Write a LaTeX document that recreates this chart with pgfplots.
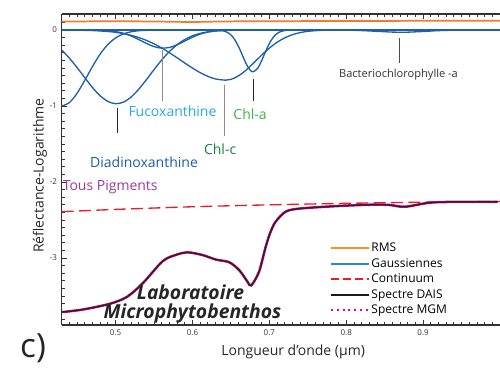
\documentclass[border=0pt]{standalone}
\usepackage{fontspec}
\setmainfont{Open Sans}
\usepackage{pgfplots}
\pgfplotsset{compat=1.18}
\definecolor{rmsorange}{HTML}{F47A30}
\definecolor{rmsleg}{HTML}{F7941D}
\definecolor{gaussblue}{HTML}{1F5FAA}
\definecolor{gaussleg}{HTML}{2B86D6}
\definecolor{contred}{HTML}{ED1C24}
\definecolor{mgm}{HTML}{EC008C}
\definecolor{fucocol}{HTML}{27AAE1}
\definecolor{diadcol}{HTML}{1C5DA8}
\definecolor{chlccol}{HTML}{1A8040}
\definecolor{chlacol}{HTML}{39B54A}
\definecolor{tpcol}{HTML}{9B3B9C}
\begin{document}
\begin{tikzpicture}
\path[use as bounding box] (-46.3pt,-37.5pt) rectangle (328.7pt,243.75pt);
\begin{axis}[
  at={(0pt,0pt)}, anchor=south west,
  scale only axis, width=328.7pt, height=233.25pt,
  xmin=0.43, xmax=1.0, ymin=-3.88, ymax=0.21,
  axis x line*=box, axis y line*=left,
  axis line style={black!80, line width=0.8pt},
  clip=false,
  xtick={0.5,0.6,0.7,0.8,0.9},
  minor xtick={0.43,0.44,...,1.0},
  ytick={-3,-2,-1,0},
  minor ytick={-3.8,-3.7,...,0.2},
  tick align=inside,
  major tick length=4pt, minor tick length=2.2pt,
  tick style={black!80, line width=0.6pt},
  tick label style={font=\fontsize{6}{7}\selectfont, text=black!80},
  /pgf/number format/assume math mode=true,
  xticklabel style={/pgf/number format/fixed, /pgf/number format/precision=1},
  legend image code/.code={\draw[#1] (0pt,0pt) -- (28pt,0pt);},
  legend style={draw=none, fill=none, at={(axis cs:0.7785,-2.78)}, anchor=north west,
    font=\fontsize{9}{10}\selectfont, row sep=1.3pt, inner sep=0pt,
    nodes={inner sep=1.1pt}},
  legend cell align=left,
]
% baseline of gaussians
\addplot[forget plot, gaussblue, line width=2pt] coordinates {(0.43,0) (1.0,0)};
% RMS
\addplot[forget plot, rmsorange, line width=1.3pt, smooth] coordinates {
(0.43,0.11) (0.50,0.115) (0.56,0.11) (0.60,0.105) (0.64,0.112) (0.70,0.115) (0.80,0.118) (0.90,0.12) (1.0,0.122)};
% Gaussian 1
\addplot[forget plot, gaussblue, line width=1pt, smooth] coordinates {
(0.43,-1.000) (0.44,-0.955) (0.45,-0.832) (0.46,-0.662) (0.47,-0.480) (0.48,-0.317) (0.49,-0.191) (0.50,-0.105) (0.51,-0.053) (0.52,-0.024) (0.53,-0.010) (0.54,-0.004) (0.55,0)};
% Diadinoxanthine
\addplot[forget plot, gaussblue, line width=1pt, smooth] coordinates {
(0.43,-0.264) (0.44,-0.371) (0.45,-0.495) (0.46,-0.628) (0.47,-0.757) (0.48,-0.866) (0.49,-0.940) (0.50,-0.970) (0.51,-0.950) (0.52,-0.884) (0.53,-0.781) (0.54,-0.655) (0.55,-0.522) (0.56,-0.395) (0.57,-0.284) (0.58,-0.194) (0.59,-0.126) (0.60,-0.077) (0.61,-0.045) (0.62,-0.025) (0.63,-0.013) (0.64,-0.007) (0.65,-0.003) (0.66,0)};
% Fucoxanthine
\addplot[forget plot, gaussblue, line width=1pt, smooth] coordinates {
(0.47,0) (0.48,-0.003) (0.49,-0.009) (0.50,-0.021) (0.51,-0.043) (0.52,-0.078) (0.53,-0.125) (0.54,-0.176) (0.55,-0.219) (0.56,-0.239) (0.57,-0.230) (0.58,-0.195) (0.59,-0.146) (0.60,-0.096) (0.61,-0.055) (0.62,-0.028) (0.63,-0.013) (0.64,-0.005) (0.65,-0.002) (0.66,0)};
% Chl-c
\addplot[forget plot, gaussblue, line width=1pt, smooth] coordinates {
(0.45,-0.003) (0.47,-0.008) (0.49,-0.020) (0.50,-0.031) (0.51,-0.048) (0.52,-0.070) (0.53,-0.099) (0.54,-0.136) (0.55,-0.182) (0.56,-0.237) (0.57,-0.299) (0.58,-0.366) (0.59,-0.435) (0.60,-0.501) (0.61,-0.561) (0.62,-0.610) (0.63,-0.644) (0.643,-0.660) (0.65,-0.650) (0.66,-0.603) (0.67,-0.526) (0.68,-0.430) (0.69,-0.331) (0.70,-0.239) (0.71,-0.162) (0.72,-0.104) (0.73,-0.062) (0.74,-0.035) (0.75,-0.018) (0.76,-0.009) (0.77,-0.004) (0.78,0)};
% Chl-a
\addplot[forget plot, gaussblue, line width=1pt, smooth] coordinates {
(0.63,-0.001) (0.640,-0.011) (0.645,-0.029) (0.650,-0.064) (0.655,-0.127) (0.660,-0.219) (0.665,-0.334) (0.670,-0.447) (0.675,-0.528) (0.679,-0.550) (0.685,-0.502) (0.690,-0.404) (0.695,-0.286) (0.700,-0.179) (0.705,-0.098) (0.710,-0.047) (0.715,-0.020) (0.720,-0.008) (0.725,-0.003) (0.73,0)};
% Bacteriochlorophylle-a
\addplot[forget plot, gaussblue, line width=1pt, smooth] coordinates {
(0.78,0) (0.80,-0.002) (0.82,-0.008) (0.84,-0.018) (0.86,-0.028) (0.872,-0.030) (0.88,-0.029) (0.90,-0.020) (0.92,-0.009) (0.94,-0.003) (0.96,0)};
% Continuum
\addplot[forget plot, contred, line width=1pt, dash pattern=on 9pt off 4pt, smooth] coordinates {
(0.43,-2.39) (0.50,-2.36) (0.60,-2.325) (0.70,-2.30) (0.80,-2.28) (0.90,-2.265) (1.0,-2.255)};
% Spectre MGM (under) and DAIS
\addplot[forget plot, mgm, line width=1.9pt, smooth] coordinates {
(0.4309,-3.71) (0.4584,-3.675) (0.4929,-3.60) (0.5149,-3.51) (0.5355,-3.33) (0.5614,-3.04) (0.5795,-2.955) (0.5941,-2.925) (0.6131,-2.96) (0.6307,-3.02) (0.6479,-3.055) (0.6609,-3.16) (0.6716,-3.31) (0.6764,-3.36) (0.6866,-3.18) (0.6953,-2.85) (0.7018,-2.65) (0.7083,-2.52) (0.7212,-2.39) (0.7384,-2.35) (0.7810,-2.32) (0.8245,-2.30) (0.8547,-2.30) (0.8762,-2.325) (0.9102,-2.27) (0.9537,-2.26) (0.9968,-2.26)};
\addplot[forget plot, black!85, line width=1.1pt, smooth] coordinates {
(0.4309,-3.71) (0.4584,-3.675) (0.4929,-3.60) (0.5149,-3.51) (0.5355,-3.33) (0.5614,-3.04) (0.5795,-2.955) (0.5941,-2.925) (0.6131,-2.96) (0.6307,-3.02) (0.6479,-3.055) (0.6609,-3.16) (0.6716,-3.31) (0.6764,-3.36) (0.6866,-3.18) (0.6953,-2.85) (0.7018,-2.65) (0.7083,-2.52) (0.7212,-2.39) (0.7384,-2.35) (0.7810,-2.32) (0.8245,-2.30) (0.8547,-2.30) (0.8762,-2.325) (0.9102,-2.27) (0.9537,-2.26) (0.9968,-2.26)};
% legend
\addlegendimage{rmsleg, line width=1.5pt}
\addlegendentry{RMS}
\addlegendimage{gaussleg, line width=1.5pt}
\addlegendentry{Gaussiennes}
\addlegendimage{contred, line width=1.5pt, dash pattern=on 6pt off 3pt}
\addlegendentry{Continuum}
\addlegendimage{black!90, line width=1.5pt}
\addlegendentry{Spectre DAIS}
\addlegendimage{mgm, line width=2pt, dash pattern=on 1.4pt off 2.9pt}
\addlegendentry{Spectre MGM}
% annotation lines
\draw[black!45, line width=1pt] (axis cs:0.5614,-0.27) -- (axis cs:0.5614,-0.94);
\draw[black!85, line width=0.8pt] (axis cs:0.502,-1.03) -- (axis cs:0.502,-1.35);
\draw[black!45, line width=1pt] (axis cs:0.6415,-0.73) -- (axis cs:0.6415,-1.39);
\draw[black!85, line width=0.8pt] (axis cs:0.679,-0.64) -- (axis cs:0.679,-0.93);
\draw[black!70, line width=0.8pt] (axis cs:0.869,-0.11) -- (axis cs:0.869,-0.44);
% labels
\node[text=fucocol, font=\fontsize{10.5}{12}\selectfont] at (axis cs:0.574,-1.07) {Fucoxanthine};
\node[text=diadcol, font=\fontsize{10.5}{12}\selectfont] at (axis cs:0.537,-1.74) {Diadinoxanthine};
\node[text=chlccol, font=\fontsize{10.5}{12}\selectfont] at (axis cs:0.636,-1.57) {Chl-c};
\node[text=chlacol, font=\fontsize{10.5}{12}\selectfont] at (axis cs:0.675,-1.11) {Chl-a};
\node[text=black!80, font=\fontsize{8.3}{10}\selectfont] at (axis cs:0.868,-0.585) {Bacteriochlorophylle -a};
\node[text=tpcol, font=\fontsize{10.5}{12}\selectfont, anchor=west, inner sep=0pt] at (axis cs:0.431,-2.07) {Tous Pigments};
\node[text=black!85, font=\bfseries\itshape\fontsize{14.5}{16}\selectfont] at (axis cs:0.5975,-3.45) {Laboratoire};
\node[text=black!85, font=\bfseries\itshape\fontsize{14.5}{16}\selectfont] at (axis cs:0.600,-3.73) {Microphytobenthos};
\node[rotate=90, text=black!85, font=\fontsize{10.5}{12}\selectfont] at (rel axis cs:-0.0495,0.48) {Réflectance-Logarithme};
\node[text=black!85, font=\fontsize{10.5}{12}\selectfont] at (rel axis cs:0.528,-0.087) {Longueur d’onde (µm)};
\node[text=black!85, font=\fontsize{25}{28}\selectfont] at (rel axis cs:-0.0655,-0.074) {c)};
\end{axis}
\end{tikzpicture}
\end{document}
